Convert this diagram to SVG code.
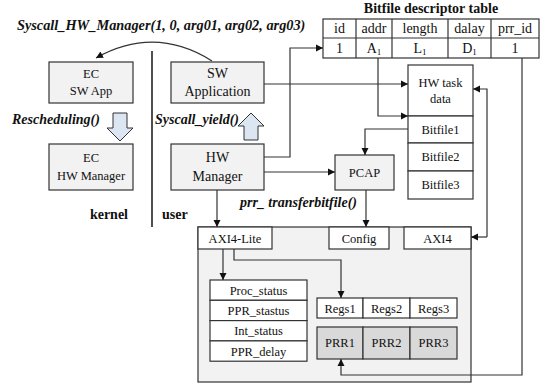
<svg xmlns="http://www.w3.org/2000/svg" width="559" height="387" viewBox="0 0 559 387">
<defs>
<marker id="ah" markerWidth="8" markerHeight="8" refX="7" refY="4" orient="auto" markerUnits="userSpaceOnUse">
<path d="M0,0.5 L7,4 L0,7.5 Z" fill="#111"/>
</marker>
<style>
text{font-family:"Liberation Serif","Times New Roman",serif;fill:#111;}
.t{font-size:12.5px;text-anchor:middle;}
.t14{font-size:14px;text-anchor:middle;}
.bi{font-size:14px;font-weight:bold;font-style:italic;}
.b{font-size:14px;font-weight:bold;}
.g{fill:#f2f2f2;stroke:#333;stroke-width:1.2;}
.w{fill:#fff;stroke:#333;stroke-width:1.2;}
.d{fill:#d9d9d9;stroke:#333;stroke-width:1.2;}
.c{fill:none;stroke:#333;stroke-width:1.2;}
.ca{fill:none;stroke:#333;stroke-width:1.2;marker-end:url(#ah);}
.ha{fill:#dce6f2;stroke:#333;stroke-width:1;}
</style>
</defs>
<rect width="559" height="387" fill="#fff"/>

<g id="labels">
<text class="bi" x="17" y="30" style="font-size:14.3px">Syscall_HW_Manager(1, 0, arg01, arg02, arg03)</text>
<text class="b" x="431" y="13" text-anchor="middle">Bitfile descriptor table</text>
<text class="bi" x="12" y="124">Rescheduling()</text>
<text class="bi" x="155" y="124">Syscall_yield()</text>
<text class="b" x="128" y="219" text-anchor="end">kernel</text>
<text class="b" x="162" y="219">user</text>
<text class="bi" x="357" y="207" text-anchor="end">prr_ transferbitfile()</text>
<text class="bi" x="348" y="281">arg01 ~arg03</text>
</g>

<g id="divider">
<line x1="152" y1="51" x2="152" y2="227" stroke="#222" stroke-width="1.6"/>
</g>

<g id="table">
<rect class="w" x="323" y="19" width="216" height="39"/>
<line class="c" x1="323" y1="38" x2="539" y2="38"/>
<line class="c" x1="356" y1="19" x2="356" y2="58"/>
<line class="c" x1="392" y1="19" x2="392" y2="58"/>
<line class="c" x1="448" y1="19" x2="448" y2="58"/>
<line class="c" x1="491" y1="19" x2="491" y2="58"/>
<text class="t14" x="339.5" y="33">id</text>
<text class="t14" x="374" y="33">addr</text>
<text class="t14" x="420" y="33">length</text>
<text class="t14" x="469.5" y="33">dalay</text>
<text class="t14" x="515" y="33">prr_id</text>
<text class="t14" x="339.5" y="53">1</text>
<text class="t14" x="374" y="53">A<tspan font-size="9" dy="2">1</tspan></text>
<text class="t14" x="420" y="53">L<tspan font-size="9" dy="2">1</tspan></text>
<text class="t14" x="469.5" y="53">D<tspan font-size="9" dy="2">1</tspan></text>
<text class="t14" x="515" y="53">1</text>
</g>

<g id="ec-sw-app">
<rect class="g" x="49" y="62" width="84" height="41"/>
<text class="t" x="91" y="78">EC</text>
<text class="t" x="91" y="95">SW App</text>
</g>

<g id="sw-application">
<rect class="g" x="171" y="62" width="93" height="41"/>
<text class="t14" x="217.5" y="78">SW</text>
<text class="t14" x="217.5" y="96">Application</text>
</g>

<g id="ec-hw-manager">
<rect class="g" x="49" y="144" width="84" height="46"/>
<text class="t" x="91" y="162">EC</text>
<text class="t" x="91" y="180">HW Manager</text>
</g>

<g id="hw-manager">
<rect class="g" x="171" y="144" width="93" height="46"/>
<text class="t14" x="217.5" y="162">HW</text>
<text class="t14" x="217.5" y="181">Manager</text>
</g>

<g id="resched-arrow">
<path class="ha" d="M113,113 H127 V128 H133 L120,141 L107,128 H113 Z"/>
</g>

<g id="yield-arrow">
<path class="ha" d="M251,113 L264,126 H258 V140 H244 V126 H238 Z"/>
</g>

<g id="hw-task-data">
<rect class="w" x="408" y="65" width="65" height="51"/>
<text class="t" x="440.5" y="87">HW task</text>
<text class="t" x="440.5" y="103">data</text>
</g>
<g id="bitfile1">
<rect class="w" x="408" y="116" width="65" height="27"/>
<text class="t" x="440.5" y="134">Bitfile1</text>
</g>
<g id="bitfile2">
<rect class="w" x="408" y="143" width="65" height="28"/>
<text class="t" x="440.5" y="161">Bitfile2</text>
</g>
<g id="bitfile3">
<rect class="w" x="408" y="171" width="65" height="28"/>
<text class="t" x="440.5" y="189">Bitfile3</text>
</g>

<g id="pcap">
<rect class="g" x="335" y="155" width="59" height="35"/>
<text class="t" x="364.5" y="177">PCAP</text>
</g>

<g id="fpga">
<rect class="g" x="198" y="227" width="273" height="155"/>
</g>
<g id="axi4-lite">
<rect class="w" x="198" y="227" width="74" height="22"/>
<text class="t" x="235" y="243">AXI4-Lite</text>
</g>
<g id="config">
<rect class="w" x="329" y="227" width="60" height="22"/>
<text class="t" x="359" y="243">Config</text>
</g>
<g id="axi4">
<rect class="w" x="404" y="227" width="67" height="22"/>
<text class="t" x="437.5" y="243">AXI4</text>
</g>

<g id="status-regs">
<rect class="w" x="210" y="280" width="97" height="20.3"/>
<rect class="w" x="210" y="300.3" width="97" height="20.3"/>
<rect class="w" x="210" y="320.6" width="97" height="20.3"/>
<rect class="w" x="210" y="340.9" width="97" height="20.3"/>
<text class="t" x="258.5" y="295">Proc_status</text>
<text class="t" x="258.5" y="315">PPR_stastus</text>
<text class="t" x="258.5" y="335">Int_status</text>
<text class="t" x="258.5" y="356">PPR_delay</text>
</g>

<g id="regs">
<rect class="w" x="317" y="298" width="46" height="20"/>
<rect class="w" x="363" y="298" width="47" height="20"/>
<rect class="w" x="410" y="298" width="47" height="20"/>
<text class="t" x="340" y="313">Regs1</text>
<text class="t" x="386.5" y="313">Regs2</text>
<text class="t" x="433.5" y="313">Regs3</text>
</g>

<g id="prr">
<rect class="d" x="317" y="327" width="46" height="32"/>
<rect class="d" x="363" y="327" width="47" height="32"/>
<rect class="d" x="410" y="327" width="47" height="32"/>
<text class="t" x="340" y="347">PRR1</text>
<text class="t" x="386.5" y="347">PRR2</text>
<text class="t" x="433.5" y="347">PRR3</text>
</g>

<g id="connectors">
<path class="ca" d="M212,61 Q155,25 96,58"/>
<path class="ca" d="M264,84 H408"/>
<path class="ca" d="M264,157 H290 V48 H323"/>
<path class="ca" d="M264,172 H335"/>
<path class="ca" d="M378,58 V116 H408"/>
<path class="ca" d="M408,129 H365 V155"/>
<path class="ca" d="M366,190 V227"/>
<path class="ca" d="M217,190 V227"/>
<path class="ca" d="M522,58 V375 H341 V359"/>
<path class="ca" d="M487,237 V89 H473"/>
<path class="ca" d="M487,237 H471"/>
<path class="ca" d="M223,249 V280"/>
<path class="ca" d="M234,249 V260 H341 V298"/>
</g>
</svg>
